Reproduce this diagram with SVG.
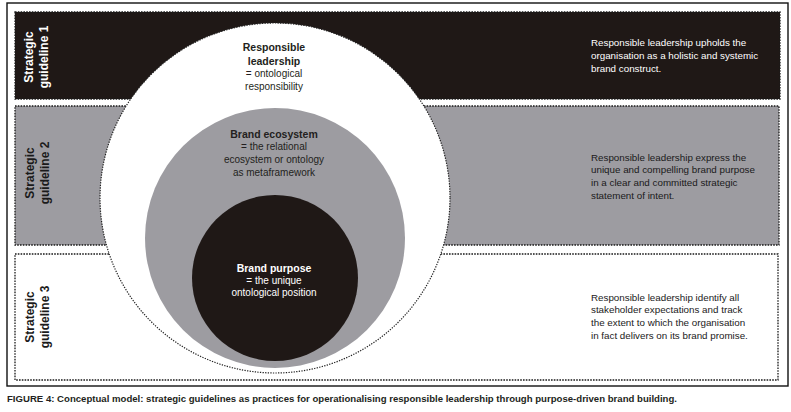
<svg xmlns="http://www.w3.org/2000/svg" width="791" height="412" viewBox="0 0 791 412">
<style>
text{font-family:"Liberation Sans",Arial,sans-serif}
.band{stroke:#1a1a1a;stroke-width:1.3;stroke-dasharray:1.6 1.2}
.lab{font-size:12px;font-weight:bold;text-anchor:middle}
.ctr{text-anchor:middle}
.b{font-weight:bold;font-size:10.5px}
.r{font-size:10px}
.side{font-size:9.8px}
</style>
<rect x="0" y="0" width="791" height="412" fill="#fff"/>
<rect x="7" y="3" width="781" height="383" fill="#fff" stroke="#111" stroke-width="1.4"/>

<g id="guideline1">
<rect class="band" x="15" y="12" width="765" height="87" fill="#1f1816"/>
<text class="lab" fill="#fff" transform="translate(33,57) rotate(-90)">Strategic</text>
<text class="lab" fill="#fff" transform="translate(48,57) rotate(-90)">guideline 1</text>
<text class="side" fill="#fff" x="591" y="45.7">Responsible leadership upholds the</text>
<text class="side" fill="#fff" x="591" y="58.7">organisation as a holistic and systemic</text>
<text class="side" fill="#fff" x="591" y="71.7">brand construct.</text>
</g>

<g id="guideline2">
<rect class="band" x="15" y="106" width="764" height="139" fill="#9d9ca1"/>
<text class="lab" fill="#1a1a1a" transform="translate(34,173) rotate(-90)">Strategic</text>
<text class="lab" fill="#1a1a1a" transform="translate(49,173) rotate(-90)">guideline 2</text>
<text class="side" fill="#1a1a1a" x="591" y="160.7">Responsible leadership express the</text>
<text class="side" fill="#1a1a1a" x="591" y="173.3">unique and compelling brand purpose</text>
<text class="side" fill="#1a1a1a" x="591" y="186">in a clear and committed strategic</text>
<text class="side" fill="#1a1a1a" x="591" y="198.5">statement of intent.</text>
</g>

<g id="guideline3">
<rect class="band" x="15" y="254" width="763" height="126" fill="#fff"/>
<text class="lab" fill="#1a1a1a" transform="translate(34,317) rotate(-90)">Strategic</text>
<text class="lab" fill="#1a1a1a" transform="translate(49,317) rotate(-90)">guideline 3</text>
<text class="side" fill="#1a1a1a" x="591" y="300.7">Responsible leadership identify all</text>
<text class="side" fill="#1a1a1a" x="591" y="313.3">stakeholder expectations and track</text>
<text class="side" fill="#1a1a1a" x="591" y="326">the extent to which the organisation</text>
<text class="side" fill="#1a1a1a" x="591" y="338.5">in fact delivers on its brand promise.</text>
</g>

<g id="responsible-leadership">
<circle cx="275" cy="198" r="175" fill="#fff" stroke="#222" stroke-width="1.2" stroke-dasharray="1.3 1.3"/>
<text class="ctr b" fill="#231f20" x="274" y="50.5">Responsible</text>
<text class="ctr b" fill="#231f20" x="274" y="65">leadership</text>
<text class="ctr r" fill="#231f20" x="274" y="77.3">= ontological</text>
<text class="ctr r" fill="#231f20" x="274" y="90">responsibility</text>
</g>

<g id="brand-ecosystem">
<circle cx="275" cy="238" r="130" fill="#9d9ca1"/>
<text class="ctr b" fill="#231f20" x="274" y="138">Brand ecosystem</text>
<text class="ctr r" fill="#231f20" x="274" y="150">= the relational</text>
<text class="ctr r" fill="#231f20" x="274" y="163.3">ecosystem or ontology</text>
<text class="ctr r" fill="#231f20" x="274" y="176">as metaframework</text>
</g>

<g id="brand-purpose">
<circle cx="275" cy="278" r="83" fill="#1f1816"/>
<text class="ctr b" fill="#fff" x="274" y="271.7">Brand purpose</text>
<text class="ctr r" fill="#fff" x="274" y="284">= the unique</text>
<text class="ctr r" fill="#fff" x="274" y="296">ontological position</text>
</g>

<text x="7" y="401.5" font-size="9.5" font-weight="bold" fill="#231f20" textLength="670" lengthAdjust="spacingAndGlyphs">FIGURE 4: Conceptual model: strategic guidelines as practices for operationalising responsible leadership through purpose-driven brand building.</text>
</svg>
